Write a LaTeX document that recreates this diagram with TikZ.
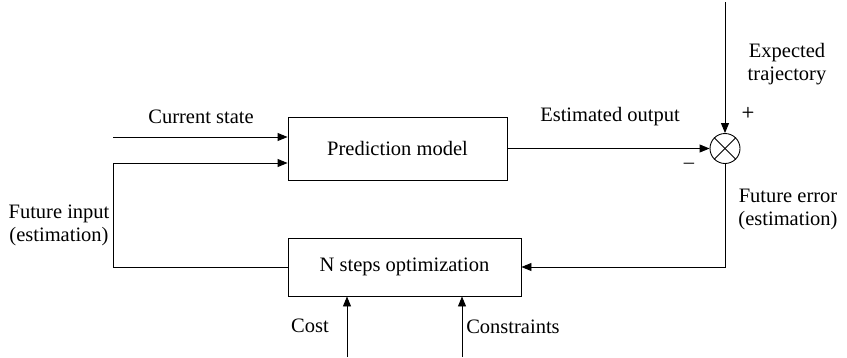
\documentclass[tikz,border=0pt]{standalone}
\usepackage{fontspec}
\setmainfont{Liberation Serif}
\usetikzlibrary{arrows.meta}
\begin{document}
\begin{tikzpicture}[x=1pt,y=-1pt,
  every node/.style={font=\fontsize{20.5}{23}\selectfont, inner sep=0pt},
  blk/.style={draw, line width=0.9pt, minimum width=#1, anchor=center},
  line/.style={line width=0.9pt},
  arr/.style={line width=0.9pt, -{Triangle[length=10pt,width=8pt]}},
  lbl/.style={align=center}]
\useasboundingbox (0,0) rectangle (847,357);
\node[blk=219pt, minimum height=63pt] (pm) at (397.5,148.5) {Prediction model};
\node[blk=233pt, minimum height=58pt] (opt) at (404.5,267) {N steps optimization};
\node[draw, circle, line width=0.9pt, minimum size=30pt] (sum) at (725,148.5) {};
\draw[line] (sum.north west) -- (sum.south east);
\draw[line] (sum.north east) -- (sum.south west);
\coordinate (cs) at (113,137);
\coordinate (top) at (725,2);
\coordinate (cost) at (347,357);
\coordinate (cons) at (462,357);
\draw[arr] (cs) -- (cs -| pm.west);
\draw[arr] (opt.west) -| (113,163) -- (113,163 -| pm.west);
\draw[arr] (pm.east |- sum.west) -- (sum.west);
\draw[arr] (top) -- (sum.north);
\draw[arr] (sum.south) |- (opt.east);
\draw[arr] (cost) -- (cost |- opt.south);
\draw[arr] (cons) -- (cons |- opt.south);
\node[lbl] (tcs) at (201,117) {Current state};
\node[lbl] (teo) at (610,117) {Estimated output};
\node[lbl] (tet) at (787,64) {Expected\\trajectory};
\node[lbl] (tfe) at (788,209) {Future error\\(estimation)};
\node[lbl] (tfi) at (59,225) {Future input\\(estimation)};
\node[font=\sffamily\bfseries\fontsize{15}{15}\selectfont] (tplus) at (748,113) {+};
\node (tminus) at (689,166) {\textendash};
\node (tcost) at (310,326) {Cost};
\node (tcons) at (513,327) {Constraints};
\end{tikzpicture}
\end{document}
